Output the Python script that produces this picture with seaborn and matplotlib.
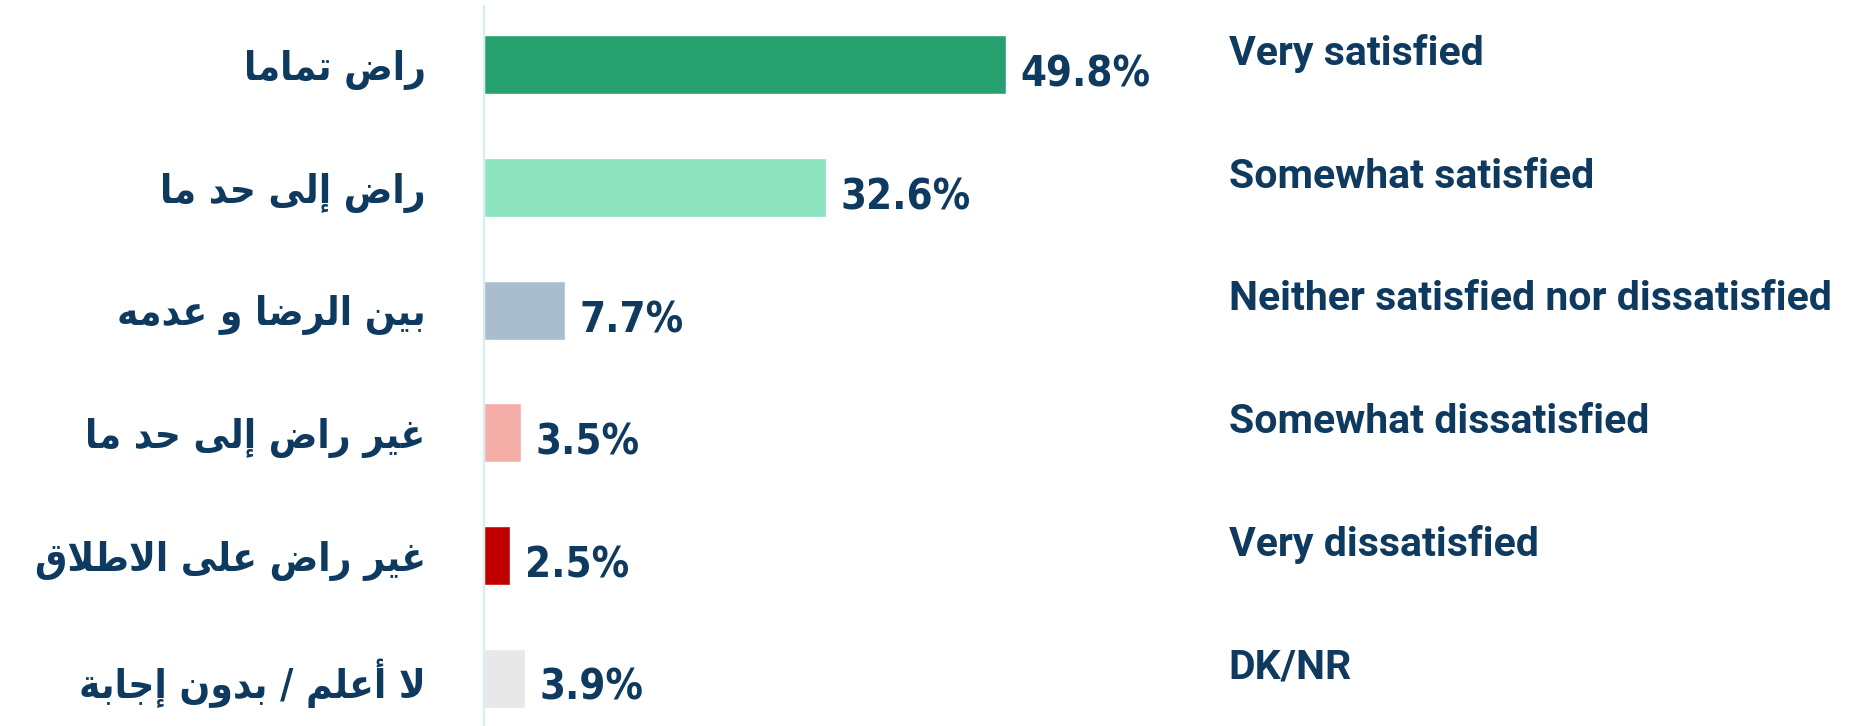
import pandas as pd
import matplotlib.pyplot as plt
import seaborn as sns

# --- datos ---
categorias_en = ['Very satisfied', 'Somewhat satisfied', 'Neither satisfied nor dissatisfied',
                 'Somewhat dissatisfied', 'Very dissatisfied', 'DK/NR']
categorias_ar = ['راض تماما', 'راض إلى حد ما', 'بين الرضا و عدمه',
                 'غير راض إلى حد ما', 'غير راض على الاطلاق', 'لا أعلم / بدون إجابة']
valores = [49.8, 32.6, 7.7, 3.5, 2.5, 3.9]
colores = ['#27a06f', '#8ee3c0', '#aabdcf', '#f5ada7', '#c00000', '#e8e8e8']

NAVY = '#0f3a5f'

# --- shaping árabe mínimo (matplotlib no hace bidi / joining) ---
FORMAS = {
    'ا': (0xFE8D, 0xFE8E), 'أ': (0xFE83, 0xFE84), 'إ': (0xFE87, 0xFE88),
    'ب': (0xFE8F, 0xFE90, 0xFE91, 0xFE92), 'ة': (0xFE93, 0xFE94),
    'ت': (0xFE95, 0xFE96, 0xFE97, 0xFE98), 'ج': (0xFE9D, 0xFE9E, 0xFE9F, 0xFEA0),
    'ح': (0xFEA1, 0xFEA2, 0xFEA3, 0xFEA4), 'د': (0xFEA9, 0xFEAA),
    'ر': (0xFEAD, 0xFEAE), 'ض': (0xFEBD, 0xFEBE, 0xFEBF, 0xFEC0),
    'ط': (0xFEC1, 0xFEC2, 0xFEC3, 0xFEC4), 'ع': (0xFEC9, 0xFECA, 0xFECB, 0xFECC),
    'غ': (0xFECD, 0xFECE, 0xFECF, 0xFED0), 'ق': (0xFED5, 0xFED6, 0xFED7, 0xFED8),
    'ل': (0xFEDD, 0xFEDE, 0xFEDF, 0xFEE0), 'م': (0xFEE1, 0xFEE2, 0xFEE3, 0xFEE4),
    'ن': (0xFEE5, 0xFEE6, 0xFEE7, 0xFEE8), 'ه': (0xFEE9, 0xFEEA, 0xFEEB, 0xFEEC),
    'و': (0xFEED, 0xFEEE), 'ى': (0xFEEF, 0xFEF0), 'ي': (0xFEF1, 0xFEF2, 0xFEF3, 0xFEF4),
}
LAM_ALEF = {'ا': (0xFEFB, 0xFEFC), 'أ': (0xFEF7, 0xFEF8), 'إ': (0xFEF9, 0xFEFA)}


def dar_forma(texto):
    tokens = []
    i = 0
    while i < len(texto):
        c = texto[i]
        if c == 'ل' and i + 1 < len(texto) and texto[i + 1] in LAM_ALEF:
            tokens.append((c, LAM_ALEF[texto[i + 1]]))
            i += 2
        else:
            tokens.append((c, FORMAS.get(c)))
            i += 1
    salida = []
    for k, (c, f) in enumerate(tokens):
        if f is None:
            salida.append(c)
            continue
        prev = tokens[k - 1][1] if k > 0 else None
        sig = tokens[k + 1][1] if k + 1 < len(tokens) else None
        une_prev = prev is not None and len(prev) == 4
        une_sig = len(f) == 4 and sig is not None
        if une_prev and une_sig:
            salida.append(chr(f[3]))
        elif une_prev:
            salida.append(chr(f[1]))
        elif une_sig:
            salida.append(chr(f[2]))
        else:
            salida.append(chr(f[0]))
    return ''.join(salida)[::-1]


df = pd.DataFrame({'categoria': categorias_en, 'valor': valores})

sns.set_theme(style='white')
plt.rcParams['font.family'] = ['DejaVu Sans']

fig = plt.figure(figsize=(18.5, 7.26), dpi=100)
ax = fig.add_axes([0.2616, 0.0, 0.4079, 0.9917])

sns.barplot(data=df, x='valor', y='categoria', hue='categoria', order=categorias_en,
            palette=colores, width=0.48, legend=False, saturation=1, ax=ax)

ax.set_xlim(0, 72)
ax.set_ylim(5.39, -0.48)
ax.set_xlabel('')
ax.set_ylabel('')
ax.set_xticks([])
ax.set_yticks(range(len(categorias_ar)))
ax.set_yticklabels([dar_forma(t) for t in categorias_ar], fontsize=29,
                   fontweight='bold', fontstretch='condensed', color=NAVY,
                   family=['DejaVu Sans'])
ax.tick_params(axis='y', length=0, pad=42)

for s in ['top', 'right', 'bottom']:
    ax.spines[s].set_visible(False)
ax.spines['left'].set_color('#d6edf5')
ax.spines['left'].set_linewidth(1.5)

# porcentajes al final de cada barra
for i, v in enumerate(valores):
    ax.text(v + 1.4, i + 0.08, f'{v:.1f}%', va='center', ha='left', fontsize=30,
            fontweight='bold', fontstretch='condensed', color=NAVY,
            family=['DejaVu Sans'])

# etiquetas en inglés a la derecha
for i, t in enumerate(categorias_en):
    ax.text(0.987, i - 0.09, t, transform=ax.get_yaxis_transform(), va='center', ha='left',
            fontsize=29.5, fontweight='bold', color=NAVY, family=['Roboto', 'DejaVu Sans'],
            clip_on=False)

plt.savefig('out.png', dpi=100)
